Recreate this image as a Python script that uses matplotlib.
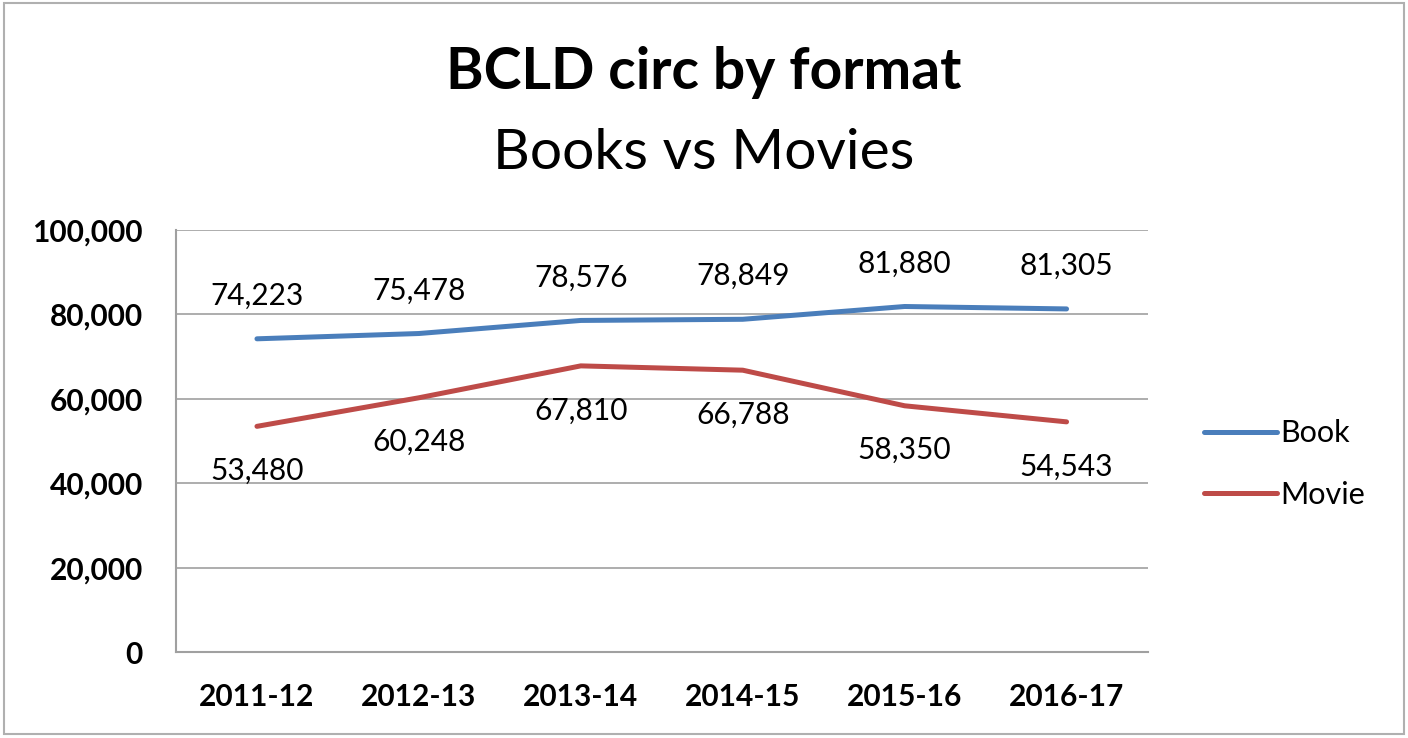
import matplotlib.pyplot as plt
from matplotlib.patches import Rectangle

plt.rcParams['font.family'] = ['Lato', 'DejaVu Sans']

years = ['2011-12', '2012-13', '2013-14', '2014-15', '2015-16', '2016-17']
book = [74223, 75478, 78576, 78849, 81880, 81305]
movie = [53480, 60248, 67810, 66788, 58350, 54543]

fig = plt.figure(figsize=(14.08, 7.38), dpi=100)
ax = fig.add_axes([0.125, 0.1165, 0.690, 0.5718])

x = range(len(years))
ax.plot(x, book, color='#4A7EBB', lw=3.6, label='Book', solid_capstyle='round')
ax.plot(x, movie, color='#BE4B48', lw=3.6, label='Movie', solid_capstyle='round')

for i, v in enumerate(book):
    ax.annotate(f'{v:,}', (i, v), xytext=(0, 31), textcoords='offset points',
                ha='center', va='center', fontsize=21.5)
for i, v in enumerate(movie):
    ax.annotate(f'{v:,}', (i, v), xytext=(0, -32), textcoords='offset points',
                ha='center', va='center', fontsize=21.5)

ax.set_xlim(-0.5, 5.5)
ax.set_ylim(0, 100000)
ax.set_yticks(range(0, 100001, 20000))
ax.set_yticklabels([f'{t:,}' for t in range(0, 100001, 20000)], fontsize=21.5, fontweight='bold')
ax.set_xticks(list(x))
ax.set_xticklabels(years, fontsize=21.5, fontweight='bold')
ax.tick_params(length=0)
ax.tick_params(axis='x', pad=22)
ax.tick_params(axis='y', pad=24)
ax.grid(axis='y', color='#a0a0a0', lw=1.2)
ax.set_axisbelow(True)
for s in ['top', 'right']:
    ax.spines[s].set_visible(False)
for s in ['left', 'bottom']:
    ax.spines[s].set_color('#a0a0a0')
    ax.spines[s].set_linewidth(1.5)

leg = ax.legend(loc='center left', bbox_to_anchor=(1.03, 0.445), frameon=False,
                fontsize=22, handlelength=2.4, handletextpad=0.1, labelspacing=1.1)

fig.text(0.5, 0.902, 'BCLD circ by format', ha='center', va='center',
         fontsize=41, fontweight='bold')
fig.text(0.5, 0.792, 'Books vs Movies', ha='center', va='center', fontsize=41)

fig.patches.append(Rectangle((0.003, 0.006), 0.994, 0.99, transform=fig.transFigure,
                             fill=False, edgecolor='#b0b0b0', lw=1.5))

fig.savefig('out.png', dpi=100)
